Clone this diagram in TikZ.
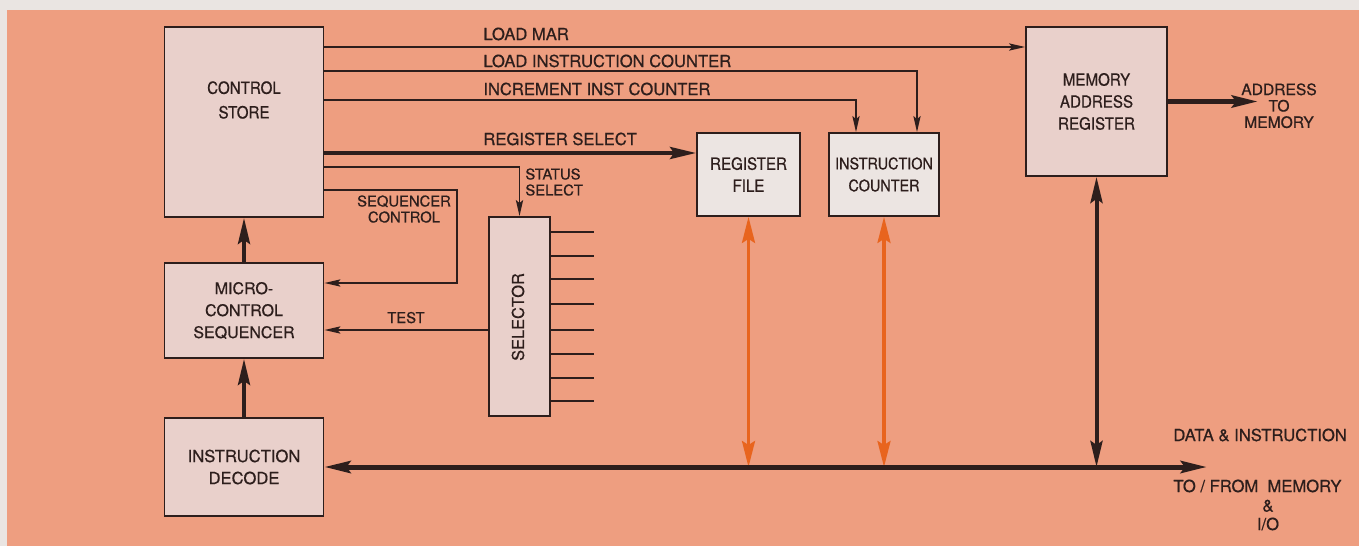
\documentclass[tikz,border=0pt]{standalone}
\usepackage{fontspec}
\setmainfont{TeX Gyre Heros}[FakeBold=0.6]
\newfontfamily\narrowfont{TeX Gyre Heros}[FakeStretch=0.9,FakeBold=0.6]
\usetikzlibrary{arrows.meta}
\definecolor{paper}{RGB}{234,229,226}
\definecolor{salmon}{RGB}{238,158,128}
\definecolor{boxfill}{RGB}{233,208,203}
\definecolor{lightfill}{RGB}{236,229,226}
\definecolor{ink}{RGB}{45,30,28}
\definecolor{orangeline}{RGB}{232,100,30}
\begin{document}
\begin{tikzpicture}[x=0.5pt,y=-0.5pt,
  box/.style={draw=ink, line width=0.9pt, fill=boxfill, inner sep=0pt, align=center,
    font=\fontsize{8}{11}\selectfont, text=ink},
  narrowtext/.style={font=\narrowfont\fontsize{8.4}{11}\selectfont},
  lightbox/.style={box, fill=lightfill},
  lbl/.style={inner sep=0pt, font=\fontsize{8.3}{8}\selectfont, text=ink},
  small/.style={inner sep=0pt, font=\fontsize{7.4}{8}\selectfont, text=ink},
  wire/.style={draw=ink, line width=0.9pt},
  thinarrow/.style={wire, -{Stealth[length=8pt,width=3.6pt,inset=1.5pt]}},
  heavy/.style={draw=ink, line width=2pt},
  bighead/.tip={Stealth[length=13pt,width=6pt,inset=2pt]},
  heavyarrow/.style={heavy, -bighead},
  busline/.style={draw=ink, line width=2.5pt},
  orangearrow/.style={draw=orangeline, line width=1.6pt,
    {Stealth[length=13pt,width=6.5pt,inset=2pt]}-{Stealth[length=13pt,width=6.5pt,inset=2pt]}}
]
\useasboundingbox (0,0) rectangle (1359,546);
\fill[paper] (0,0) rectangle (1359,546);
\fill[salmon] (7,10) rectangle (1359,546);

% boxes
\node[box, minimum width=79.5pt, minimum height=95pt] (cs) at (244,122) {};
\node[inner sep=0pt, align=center, font=\narrowfont\fontsize{8.4}{12.3}\selectfont, text=ink] (cst) at (244,100) {CONTROL\\STORE};
\node[box, minimum width=79.5pt, minimum height=47.5pt] (mcs) at (244,310.5) {MICRO-\\CONTROL\\SEQUENCER};
\node[box, minimum width=79.5pt, minimum height=49pt, font=\fontsize{8.3}{11}\selectfont] (id) at (244,467) {INSTRUCTION\\DECODE};
\node[lightbox, narrowtext, minimum width=51.5pt, minimum height=41.5pt] (rf) at (748.5,174.5) {REGISTER\\FILE};
\node[lightbox, minimum width=55pt, minimum height=41.5pt, font=\narrowfont\fontsize{8}{11}\selectfont] (ic) at (884,174.5) {INSTRUCTION\\COUNTER};
\node[box, narrowtext, minimum width=70.5pt, minimum height=74.5pt] (mar) at (1096.5,101.5) {MEMORY\\ADDRESS\\REGISTER};
\node[box, minimum width=30.5pt, minimum height=99.5pt] (sel) at (519.5,316.5) {};
\node[inner sep=0pt, rotate=90, font=\fontsize{8.2}{11}\selectfont, text=ink] (selt) at (518,317) {SELECTOR};

% helper coordinates
\coordinate (yMAR) at (0,47);
\coordinate (yLIC) at (0,71);
\coordinate (yINC) at (0,100);
\coordinate (yRS) at (0,153);
\coordinate (ySS) at (0,167);
\coordinate (sc1) at (457,190);
\coordinate (sc2) at (457,283);
\coordinate (yTEST) at (0,330);
\coordinate (xLIC) at (917,0);
\coordinate (xINC) at (856,0);
\coordinate (busEnd) at (1207,0);
\coordinate (addrEnd) at (1258,0);

% control lines
\draw[thinarrow] (cs.east |- yMAR) -- (mar.west |- yMAR);
\draw[thinarrow] (cs.east |- yLIC) -| (ic.north -| xLIC);
\draw[thinarrow] (cs.east |- yINC) -| (ic.north -| xINC);
\draw[heavyarrow] (cs.east |- yRS) -- (rf.west |- yRS);
\draw[thinarrow] (cs.east |- ySS) -| (sel.north);
\draw[thinarrow] (cs.east |- sc1) -- (sc1) -- (sc2) -- (mcs.east |- sc2);
\draw[thinarrow] (sel.west |- yTEST) -- (mcs.east |- yTEST);
\foreach \y in {232,256,279,304,330,354,378,401}
  \draw[wire] (sel.east |- 0,\y) -- ++(43,0);

\draw[heavyarrow] (mcs.north) -- (cs.south);
\draw[heavyarrow] (id.north) -- (mcs.south);

% data paths
\draw[orangearrow] (rf.south |- id.east) -- (rf.south);
\draw[orangearrow] (ic.south |- id.east) -- (ic.south);
\draw[heavy, bighead-bighead] (mar.south |- id.east) -- (mar.south);
\draw[busline, bighead-bighead] (id.east) -- (id.east -| busEnd);
\draw[busline, -bighead] (mar.east) -- (mar.east -| addrEnd);

% labels
\node[lbl, anchor=base west] (tMAR) at (483,40) {LOAD MAR};
\node[lbl, anchor=base west] (tLIC) at (483,67) {LOAD INSTRUCTION COUNTER};
\node[lbl, anchor=base west] (tINC) at (483,95) {INCREMENT INST COUNTER};
\node[lbl, anchor=base west] (tRS) at (483,145) {REGISTER SELECT};
\node[small, anchor=north west, align=left] (tSS) at (525,168) {STATUS\\SELECT};
\node[small, anchor=north, align=center] (tSC) at (404,195) {SEQUENCER\\CONTROL};
\node[small, anchor=base] (tTEST) at (406,323) {TEST};
\node[small, anchor=north, align=center, font=\fontsize{7.8}{8.2}\selectfont] (tADDR) at (1279,83) {ADDRESS\\TO\\MEMORY};
\node[lbl, anchor=base west] (tDATA) at (1173,441) {DATA \& INSTRUCTION};
\node[lbl, anchor=base west] (tTO) at (1173,492) {TO / FROM~~MEMORY};
\node[lbl, anchor=base] (tAMP) at (1268,511.5) {\&};
\node[lbl, anchor=base] (tIO) at (1268,530) {I/O};
\end{tikzpicture}
\end{document}
